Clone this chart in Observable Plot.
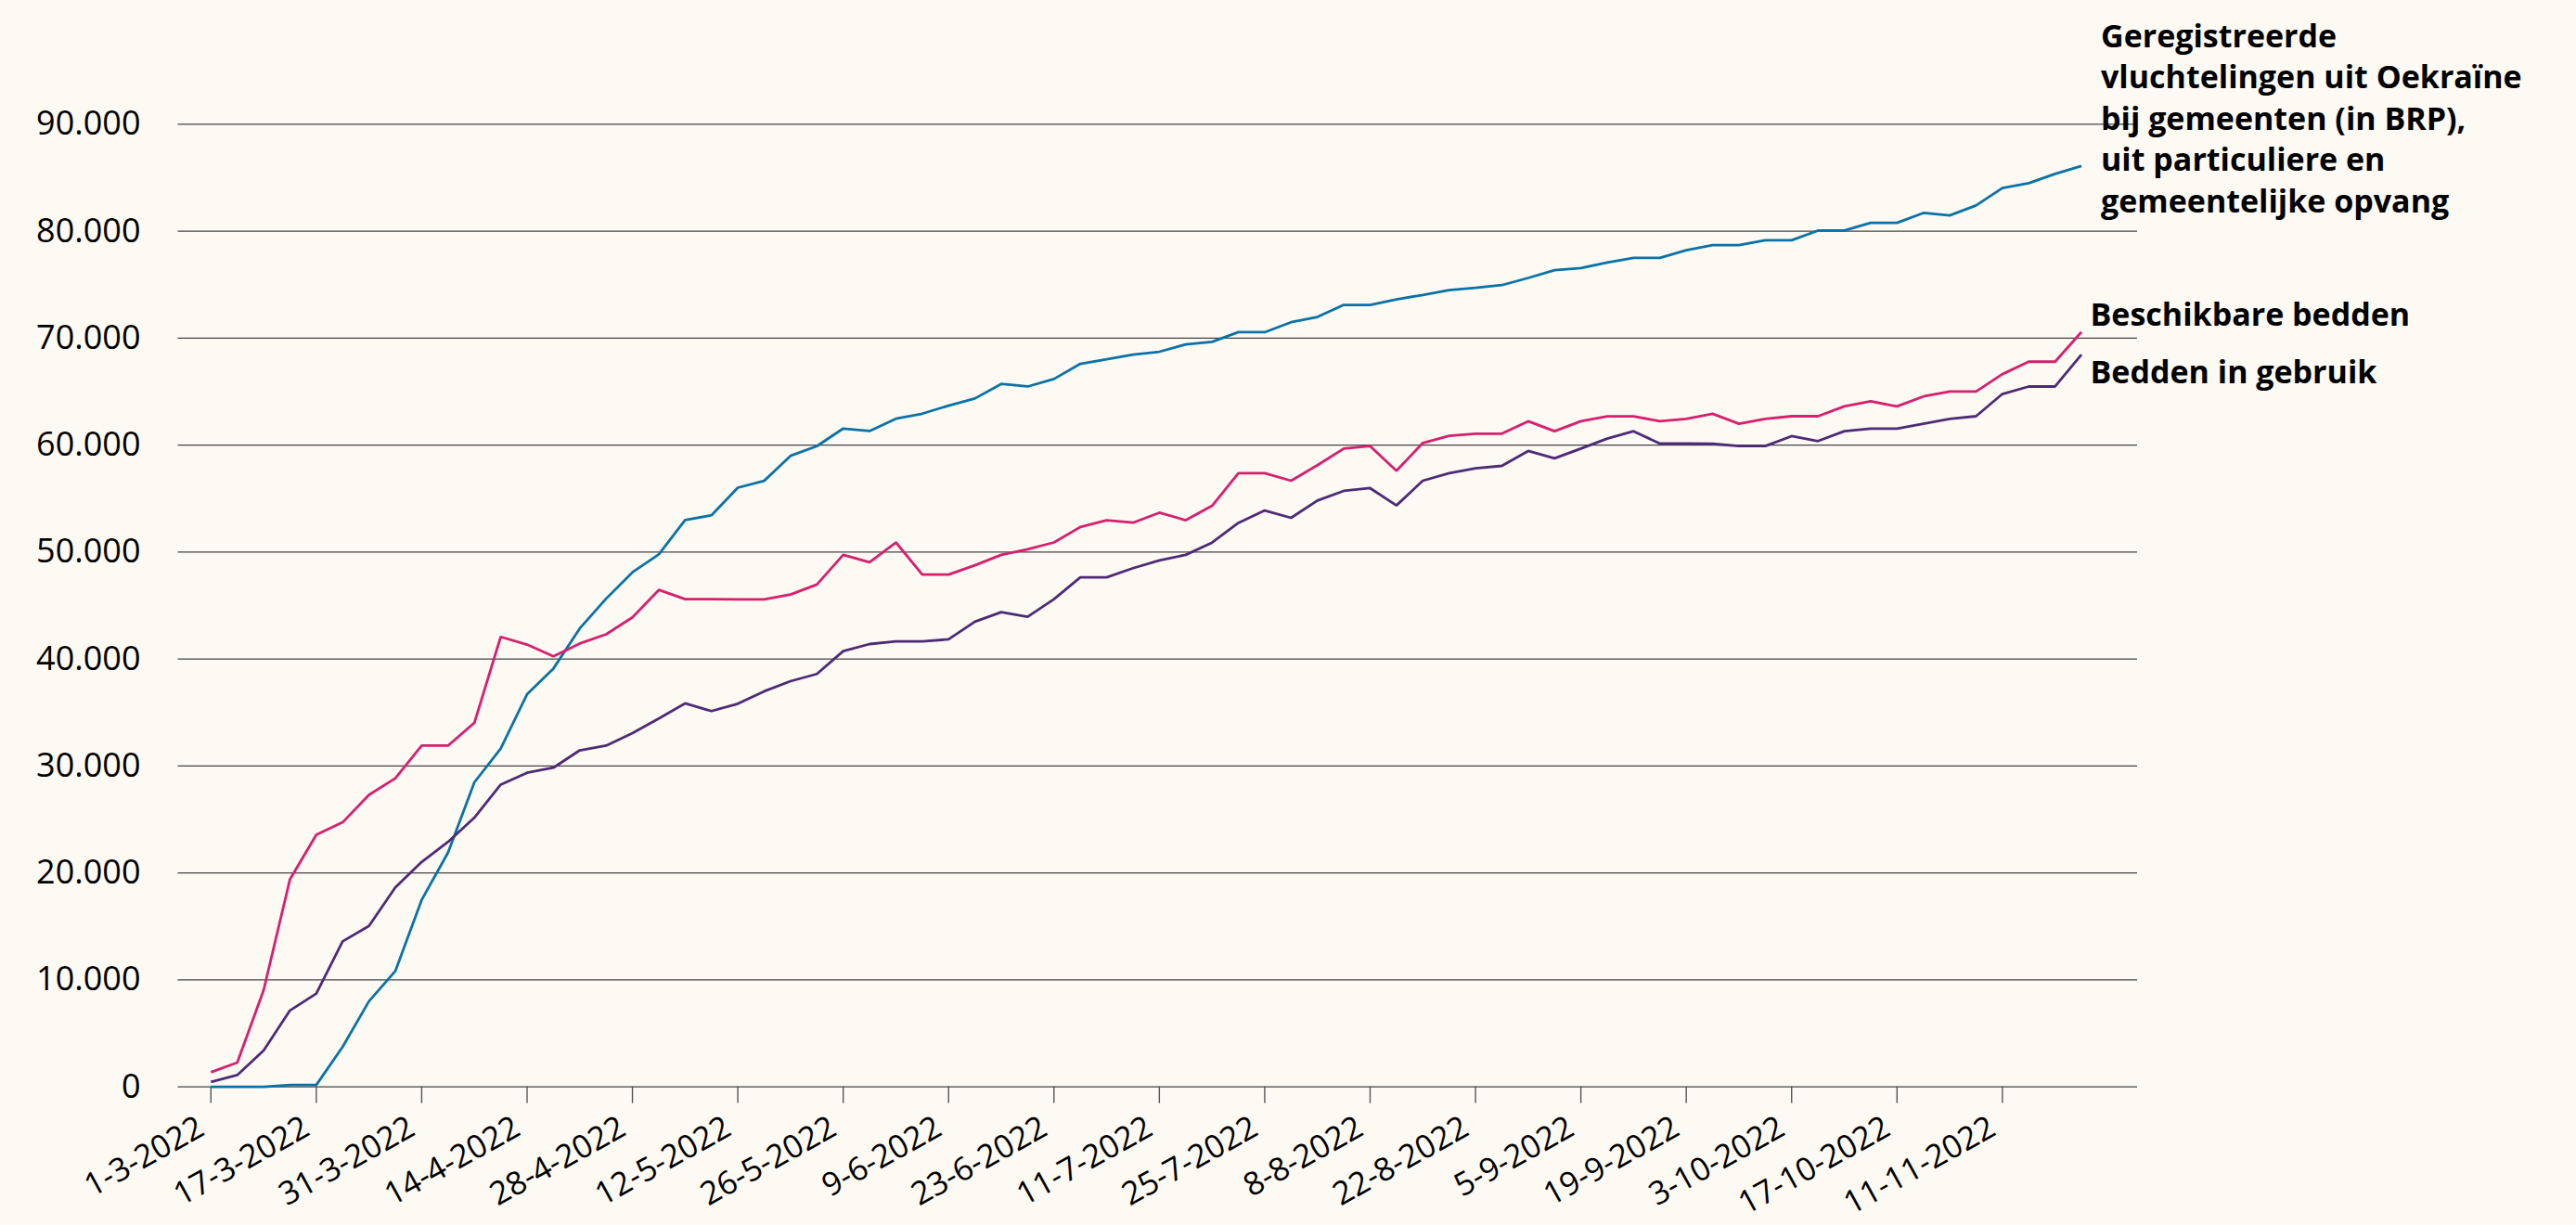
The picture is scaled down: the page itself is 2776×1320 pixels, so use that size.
<!DOCTYPE html>
<html><head><meta charset="utf-8">
<script src="https://cdn.jsdelivr.net/npm/d3@7"></script>
<script src="https://cdn.jsdelivr.net/npm/@observablehq/plot@0.6"></script>
<style>
html,body{margin:0;padding:0;background:#fcfaf3;}
#chart{width:2776px;height:1320px;overflow:hidden;}
</style></head><body><div id="chart"></div>
<script>
// Tick labels (every 4th observation) and their observation index
const tickLabels = ["1-3-2022","17-3-2022","31-3-2022","14-4-2022","28-4-2022","12-5-2022","26-5-2022","9-6-2022","23-6-2022","11-7-2022","25-7-2022","8-8-2022","22-8-2022","5-9-2022","19-9-2022","3-10-2022","17-10-2022","11-11-2022"];
const tickIndex = [0,4,8,12,16,20,24,28,32,36,40,44,48,52,56,60,64,68];

// Series values, one per observation (72 observations)
const geregistreerd = [0,0,0,170,170,3740,8000,10820,17480,21900,28470,31630,36710,39110,42860,45640,48110,49790,53000,53440,56020,56660,59000,59900,61550,61320,62470,62940,63690,64360,65720,65480,66180,67600,68030,68470,68730,69420,69650,70560,70560,71490,71980,73110,73110,73630,74040,74500,74700,74960,75630,76350,76560,77080,77510,77510,78230,78700,78700,79160,79160,80060,80060,80780,80780,81710,81480,82410,84030,84490,85360,86090];
const beschikbaar = [1370,2270,9030,19400,23560,24730,27300,28850,31900,31900,34030,42070,41350,40250,41450,42310,43890,46460,45600,45600,45570,45570,46030,46960,49740,49050,50900,47890,47890,48760,49740,50260,50900,52340,52980,52750,53680,52980,54320,57370,57370,56670,58120,59680,59910,57600,60200,60870,61070,61070,62230,61300,62230,62690,62690,62230,62460,62930,62000,62460,62700,62700,63620,64090,63620,64550,65010,65010,66640,67800,67800,70580];
const inGebruik = [450,1100,3400,7140,8720,13600,15040,18650,21020,22900,25170,28260,29360,29840,31460,31900,33070,34440,35850,35130,35820,36980,37930,38600,40740,41400,41640,41640,41840,43490,44380,43950,45600,47630,47630,48490,49220,49740,50880,52730,53890,53200,54820,55720,55980,54360,56670,57370,57830,58060,59450,58760,59680,60610,61300,60140,60140,60120,59910,59910,60840,60380,61300,61540,61540,62000,62460,62700,64780,65480,65480,68460];

const seriesNames = ["Geregistreerde vluchtelingen uit Oekraïne bij gemeenten (in BRP), uit particuliere en gemeentelijke opvang", "Beschikbare bedden", "Bedden in gebruik"];
const seriesLabels = ["Geregistreerde\nvluchtelingen uit Oekraïne\nbij gemeenten (in BRP),\nuit particuliere en\ngemeentelijke opvang", "Beschikbare bedden", "Bedden in gebruik"];
const seriesColors = ["#0a72a8", "#d81f6e", "#4e2a78"];
const yTicks = [0,10000,20000,30000,40000,50000,60000,70000,80000,90000];

const allSeries = [geregistreerd, beschikbaar, inGebruik];
const rows = [];
allSeries.forEach((vals, s) => vals.forEach((v, i) => rows.push({i, v, serie: seriesNames[s]})));
const last = allSeries.map((vals, s) => ({i: vals.length - 1, v: vals[vals.length - 1], label: seriesLabels[s]}));

const fmt = d => d3.format(",")(d).replace(/,/g, ".");
const font = "'Open Sans', 'Noto Sans', sans-serif";

const chart = Plot.plot({
  width: 2776, height: 1320,
  marginLeft: 191.5, marginRight: 473, marginTop: 133.4, marginBottom: 149.4,
  style: {background: "#fcfaf3", fontFamily: font, overflow: "visible", color: "#000"},
  x: {domain: [-1.243, 73.13], axis: null, label: null},
  y: {domain: [0, 90000], axis: null, label: null},
  color: {domain: seriesNames, range: seriesColors},
  marks: [
    Plot.ruleY(yTicks, {stroke: "#444", strokeWidth: 1.4}),
    Plot.axisY(yTicks, {anchor: "left", tickSize: 0, tickPadding: 40.5, tickFormat: fmt, fontSize: 36, fill: "#000", label: null}),
    Plot.axisX(tickIndex, {anchor: "bottom", tickSize: 18, tickFormat: () => "", stroke: "#555", strokeWidth: 1.4, label: null}),
    Plot.text(tickIndex, {x: d => d, y: () => 0, text: (d, k) => tickLabels[k], rotate: -29, textAnchor: "end", lineAnchor: "top", dy: 29.5, dx: -17, fontSize: 34.5, fill: "#000"}),
    Plot.line(rows, {x: "i", y: "v", z: "serie", stroke: "serie", strokeWidth: 2.8, strokeLinejoin: "miter", strokeLinecap: "butt"}),
    Plot.text([last[0]], {x: "i", y: "v", text: "label", textAnchor: "start", lineAnchor: "top", dx: 21, dy: -160, fontSize: 34, fontWeight: 700, lineHeight: 1.31, fill: "#000"}),
    Plot.text([last[1]], {x: "i", y: "v", text: "label", textAnchor: "start", lineAnchor: "top", dx: 9.5, dy: -31, fontSize: 34, fontWeight: 700, fill: "#000"}),
    Plot.text([last[2]], {x: "i", y: "v", text: "label", textAnchor: "start", lineAnchor: "top", dx: 9.5, dy: 7, fontSize: 34, fontWeight: 700, fill: "#000"})
  ]
});
document.getElementById("chart").appendChild(chart);
</script>
</body></html>
